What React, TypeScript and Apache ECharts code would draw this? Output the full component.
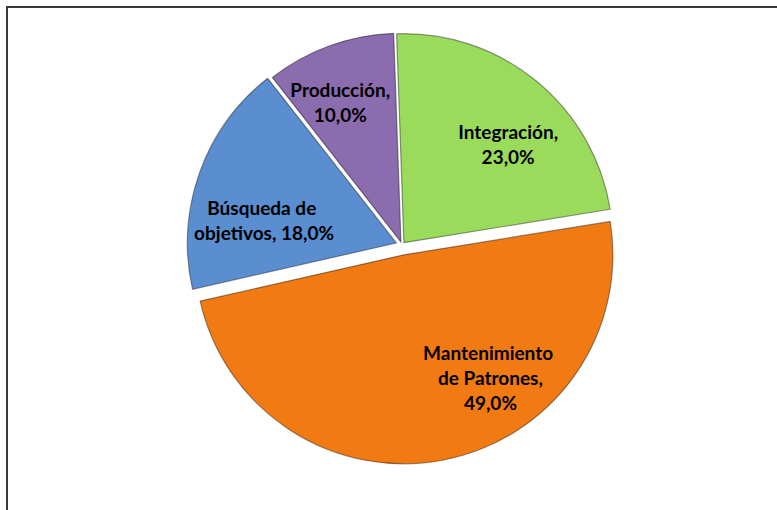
import React, { useEffect, useRef } from "react";
import * as echarts from "echarts";

const categories = ["Integración", "Mantenimiento de Patrones", "Búsqueda de objetivos", "Producción"];
const values = [23, 49, 18, 10];
const colors = ["#9BDB5C", "#F27A12", "#5A8ED0", "#8B6CAE"];

// layout constants (style only)
const explode = [3, 10, 6, 3];
const labelShift: [number, number][] = [
  [36, -16],
  [66, 17],
  [-31, 13],
  [-24, -39],
];
const labelWidths = [112, 140, 155, 112];
const valueSep = ["\n", "\n", " ", "\n"];

function fmt(v: number) {
  return v.toFixed(1).replace(".", ",") + "%";
}

export default function App() {
  const ref = useRef<HTMLDivElement>(null);
  useEffect(() => {
    if (!ref.current) return;
    const chart = echarts.init(ref.current, null, { renderer: "svg" });
    const series = categories.map((_, i) => ({
      type: "pie",
      center: [402, 245],
      radius: 209,
      startAngle: 92,
      clockwise: true,
      selectedMode: "single",
      selectedOffset: explode[i],
      silent: true,
      emphasis: { disabled: true },
      labelLine: { show: false },
      labelLayout: (p: any) =>
        p.dataIndex === i ? { dx: labelShift[i][0], dy: labelShift[i][1] } : {},
      data: categories.map((name, j) => ({
        name,
        value: values[j],
        selected: j === i,
        itemStyle:
          j === i
            ? { color: colors[j], borderColor: "rgba(0,0,0,0.4)", borderWidth: 1.2 }
            : { color: "rgba(0,0,0,0)", borderWidth: 0 },
        select: {
          itemStyle:
            j === i
              ? { color: colors[j], borderColor: "rgba(0,0,0,0.4)", borderWidth: 1.2 }
              : { color: "rgba(0,0,0,0)", borderWidth: 0 },
        },
        label: {
          show: j === i,
          position: "inside",
          formatter: (p: any) => `${p.name},${valueSep[j]}${fmt(p.value)}`,
          width: labelWidths[j],
          overflow: "break",
          color: "#000",
          fontFamily: "Lato",
          fontWeight: "bold",
          fontSize: 19,
          lineHeight: 25,
          align: "center",
        },
      })),
    }));
    chart.setOption({
      animation: false,
      backgroundColor: "#fff",
      graphic: [
        {
          type: "rect",
          shape: { x: 7, y: 7, width: 820, height: 540 },
          style: { fill: "none", stroke: "#3a3a3a", lineWidth: 2 },
          z: 10,
        },
      ],
      series,
    });
    return () => chart.dispose();
  }, []);
  return (
    <div
      ref={ref}
      style={{ position: "fixed", left: 0, top: 0, width: 777, height: 510 }}
    />
  );
}
